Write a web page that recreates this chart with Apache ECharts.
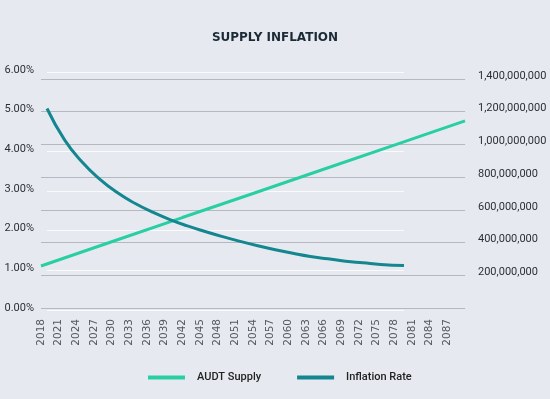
<!DOCTYPE html>
<html>
<head>
<meta charset="utf-8">
<title>Supply Inflation</title>
<script src="https://cdn.jsdelivr.net/npm/echarts@6/dist/echarts.min.js"></script>
<style>
  html, body { margin: 0; padding: 0; background: #e6eaf0; }
  #main { width: 550px; height: 399px; }
</style>
</head>
<body>
<div id="main"></div>
<script>
// supply (right axis, tokens)
var supplyYears = ['2018', '2030', '2042', '2054', '2066', '2078', '2090'];
var supplyValues = [257000000, 405000000, 553000000, 700000000, 848000000, 996000000, 1144000000];

// inflation rate (left axis, %)
var inflationYears = [2019, 2022, 2025, 2028, 2031, 2034, 2037, 2040, 2043, 2046, 2049,
  2052, 2055, 2058, 2061, 2064, 2067, 2070, 2073, 2076, 2080];
var inflationValues = [5.08, 4.29, 3.73, 3.30, 2.96, 2.69, 2.47, 2.28, 2.12, 1.98, 1.85,
  1.73, 1.62, 1.52, 1.43, 1.35, 1.29, 1.23, 1.19, 1.15, 1.12];

// x axis categories, a label every 3 years
var firstYear = 2018, lastYear = 2090, labelStep = 3, lastLabel = 2087;

var years = [];
for (var y = firstYear; y <= lastYear; y++) years.push(String(y));

var supplyData = supplyYears.map(function (yr, i) { return [yr, supplyValues[i]]; });
var inflationData = inflationYears.map(function (yr, i) { return [yr, inflationValues[i]]; });

var chart = echarts.init(document.getElementById('main'), null, { renderer: 'canvas' });

var option = {
  backgroundColor: '#e6eaf0',
  animation: false,
  title: {
    text: 'SUPPLY INFLATION',
    left: 'center',
    top: 27,
    textStyle: { fontFamily: 'DejaVu Sans', fontSize: 12, fontWeight: 'bold', color: '#1c2a36' }
  },
  legend: {
    left: 143,
    bottom: 11,
    icon: 'rect',
    itemWidth: 37,
    itemHeight: 4,
    itemGap: 36,
    textStyle: { fontFamily: 'Roboto', fontSize: 11, fontWeight: 500, color: '#222', padding: [0, 0, 0, 7] },
    data: ['AUDT Supply', 'Inflation Rate']
  },
  grid: [
    // supply / right axis (grey lines)
    { left: 41, right: 85, top: 79, bottom: 91 },
    // inflation / left axis (white lines)
    { left: 47, right: 146, top: 72, bottom: 89 }
  ],
  xAxis: [{
    gridIndex: 0,
    type: 'category',
    data: years,
    boundaryGap: false,
    axisLine: { show: false },
    axisTick: { show: false },
    axisLabel: {
      rotate: 90,
      margin: 11,
      fontFamily: 'DejaVu Sans',
      fontSize: 10.5,
      color: '#55595f',
      interval: function (idx, val) {
        return (Number(val) - firstYear) % labelStep === 0 && Number(val) <= lastLabel;
      }
    }
  }, {
    gridIndex: 1,
    type: 'value',
    min: 2019,
    max: 2080,
    show: false,
    splitLine: { show: false }
  }],
  yAxis: [{
    gridIndex: 0,
    type: 'value',
    position: 'right',
    min: 0,
    max: 1400000000,
    interval: 200000000,
    z: 1,
    axisLine: { show: false },
    axisTick: { show: false },
    splitLine: { lineStyle: { color: '#b5b9bf', width: 1 } },
    axisLabel: {
      margin: 13,
      verticalAlign: 'bottom',
      lineHeight: 6,
      fontFamily: 'Roboto',
      fontSize: 11,
      color: '#2b3036',
      formatter: function (v) { return v === 0 ? '' : v.toLocaleString('en-US'); }
    }
  }, {
    gridIndex: 1,
    type: 'value',
    position: 'left',
    min: 0,
    max: 6,
    interval: 1,
    z: 0,
    axisLine: { show: false },
    axisTick: { show: false },
    splitLine: { lineStyle: { color: '#f8fafc', width: 1 } },
    axisLabel: {
      margin: 13,
      verticalAlign: 'bottom',
      lineHeight: 4,
      fontFamily: 'Roboto',
      fontSize: 11,
      color: '#2b3036',
      formatter: function (v) { return v.toFixed(2) + '%'; }
    }
  }],
  series: [{
    name: 'AUDT Supply',
    type: 'line',
    xAxisIndex: 0,
    yAxisIndex: 0,
    data: supplyData,
    showSymbol: false,
    symbol: 'none',
    lineStyle: { color: '#29cfa3', width: 3 },
    itemStyle: { color: '#29cfa3' },
    z: 3
  }, {
    name: 'Inflation Rate',
    type: 'line',
    xAxisIndex: 1,
    yAxisIndex: 1,
    data: inflationData,
    smooth: true,
    showSymbol: false,
    symbol: 'none',
    lineStyle: { color: '#14868f', width: 3 },
    itemStyle: { color: '#14868f' },
    z: 3
  }]
};

chart.setOption(option);
</script>
</body>
</html>
